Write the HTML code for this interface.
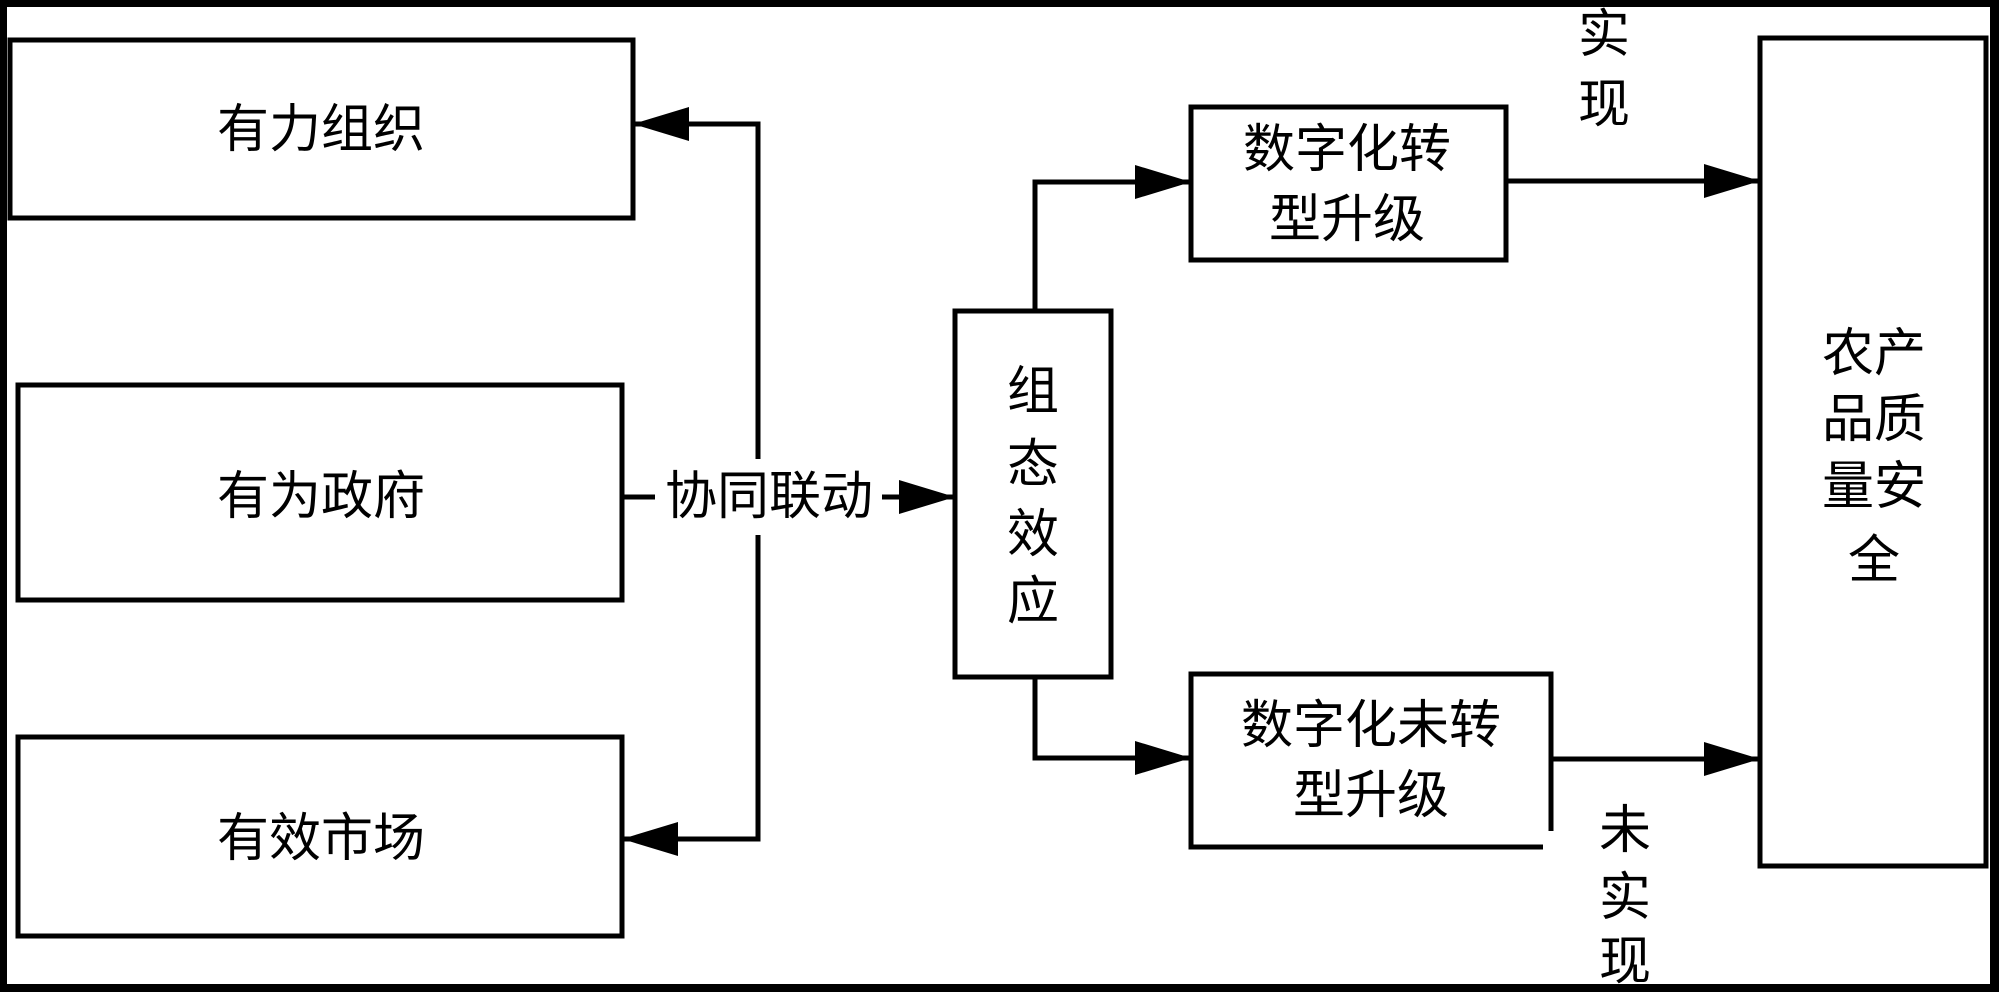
<!DOCTYPE html>
<html><head><meta charset="utf-8"><style>
html,body{margin:0;padding:0;background:#fff}
svg{display:block}
text{font-family:"Liberation Sans","Noto Sans CJK SC",sans-serif;font-size:52px;fill:#000}
</style></head><body>
<svg width="1999" height="992" viewBox="0 0 1999 992" xmlns="http://www.w3.org/2000/svg">
<defs>
<marker id="a" markerWidth="56" markerHeight="34" refX="56" refY="17" markerUnits="userSpaceOnUse" orient="auto">
<path d="M0,0 L56,17 L0,34 Z" fill="#000"/>
</marker>
</defs>
<rect x="3" y="3" width="1991" height="985" fill="#fff" stroke="#000" stroke-width="8"/>
<rect x="1990" y="0" width="9" height="992" fill="#000"/>
<g fill="none" stroke="#000" stroke-width="5">
<rect x="10" y="40" width="623" height="178"/>
<rect x="18" y="385" width="604" height="215"/>
<rect x="18" y="737" width="604" height="199"/>
<rect x="955" y="311" width="156" height="366"/>
<rect x="1191" y="107" width="315" height="153"/>
<path d="M1551,831 V674 H1191 V847 H1543"/>
<rect x="1760" y="38" width="226" height="828"/>
<!-- connectors -->
<path d="M758,459 V124 H633" marker-end="url(#a)"/>
<path d="M758,535 V839 H622" marker-end="url(#a)"/>
<path d="M622,497 H655"/>
<path d="M882,497 H955" marker-end="url(#a)"/>
<path d="M1035,311 V182 H1191" marker-end="url(#a)"/>
<path d="M1035,677 V758 H1191" marker-end="url(#a)"/>
<path d="M1506,181 H1760" marker-end="url(#a)"/>
<path d="M1551,759 H1760" marker-end="url(#a)"/>
</g>
<g text-anchor="middle" dominant-baseline="central">
<text x="321" y="130">有力组织</text>
<text x="321" y="497">有为政府</text>
<text x="321" y="839">有效市场</text>
<text x="769" y="497">协同联动</text>
<text x="1033" y="392">组</text>
<text x="1033" y="465">态</text>
<text x="1033" y="535">效</text>
<text x="1033" y="602">应</text>
<text x="1347" y="150">数字化转</text>
<text x="1347" y="220">型升级</text>
<text x="1371" y="726">数字化未转</text>
<text x="1371" y="796">型升级</text>
<text x="1874" y="354">农产</text>
<text x="1874" y="420">品质</text>
<text x="1874" y="487">量安</text>
<text x="1874" y="561">全</text>
<text x="1604" y="35">实</text>
<text x="1604" y="105">现</text>
<text x="1625" y="831">未</text>
<text x="1625" y="898">实</text>
<text x="1625" y="962">现</text>
</g>
</svg>
</body></html>
